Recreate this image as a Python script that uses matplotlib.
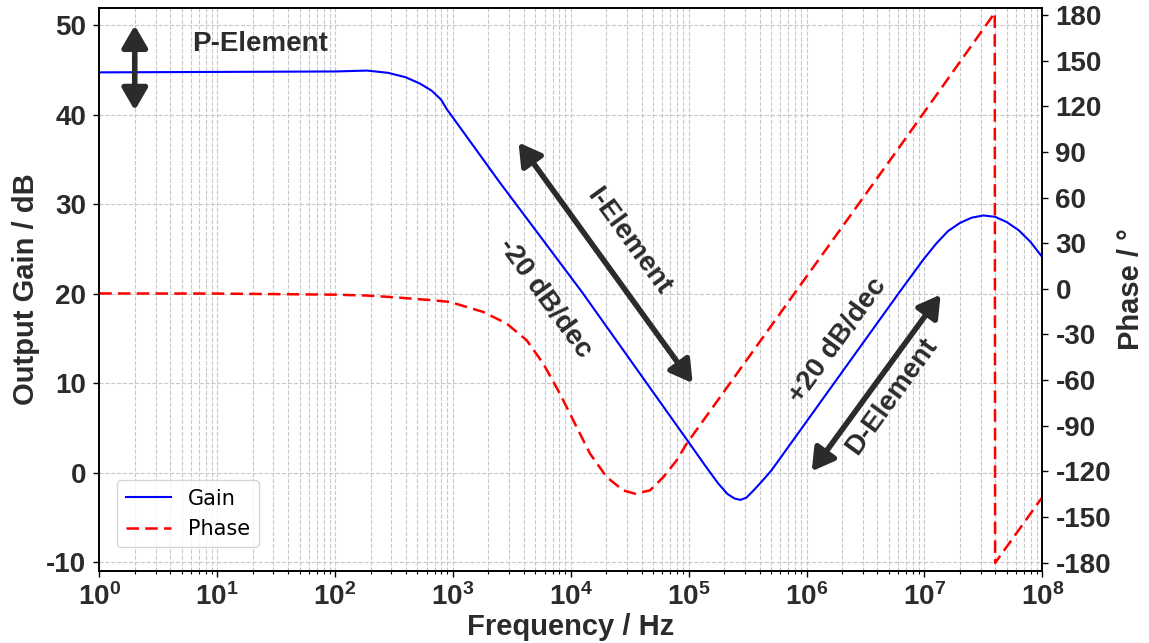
import numpy as np
import matplotlib
matplotlib.use('Agg')
import matplotlib.pyplot as plt
from matplotlib.ticker import FuncFormatter, LogLocator, MultipleLocator, NullFormatter

# values (log10 of frequency in Hz)
gain_logf = [0.0, 1.0, 2.0, 2.27, 2.45, 2.6, 2.72, 2.82, 2.9, 2.95, 3.0, 3.4, 4.1, 5.0,
             5.15, 5.25, 5.33, 5.39, 5.44, 5.49, 5.55, 5.62, 5.7, 6.79, 6.99, 7.1, 7.2,
             7.3, 7.4, 7.5, 7.6, 7.7, 7.8, 7.9, 8.0]
gain_db = [44.75, 44.8, 44.85, 44.95, 44.7, 44.2, 43.5, 42.7, 41.7, 40.6, 39.7, 32.4, 20.1, 3.4,
           0.6, -1.2, -2.4, -2.9, -3.05, -2.8, -2.0, -1.0, 0.2, 20.2, 23.8, 25.6, 27.0,
           27.9, 28.5, 28.75, 28.6, 28.0, 27.1, 25.8, 24.1]

phase_logf = [0.0, 1.0, 2.0, 2.27, 2.5, 2.83, 2.975, 3.258, 3.456, 3.626, 3.767, 3.908, 4.021,
              4.163, 4.305, 4.445, 4.545, 4.672, 4.785, 4.898, 4.983, 6.79, 7.597, 7.6, 8.0]
phase_deg = [-3.0, -3.1, -3.8, -4.4, -5.5, -7.5, -8.6, -15.2, -22.8, -33.8, -49.2, -68.9, -86.4,
             -108.3, -123.8, -132.5, -134.7, -132.5, -123.8, -112.8, -101.8, 93.4, 181.5, -180.2, -137.0]

gain_f = 10 ** np.array(gain_logf)
phase_f = 10 ** np.array(phase_logf)

dark = '#2b2b2b'
plt.rcParams['font.family'] = ['Liberation Sans', 'DejaVu Sans']
plt.rcParams['mathtext.fontset'] = 'custom'
plt.rcParams['mathtext.bf'] = 'Liberation Sans:bold'
plt.rcParams['mathtext.rm'] = 'Liberation Sans:bold'
plt.rcParams['axes.unicode_minus'] = False

fig = plt.figure(figsize=(11.49, 6.43), dpi=100)
ax = fig.add_axes([0.0864, 0.112, 0.8207, 0.8763])
ax2 = ax.twinx()

l1, = ax.plot(gain_f, gain_db, color='blue', lw=1.5, label='Gain')
l2, = ax2.plot(phase_f, phase_deg, color='red', lw=1.8, linestyle=(0, (5, 2.5)), label='Phase')

ax.set_xscale('log')
ax.set_xlim(1, 1e8)
ax.set_ylim(-11, 52)
ax2.set_ylim(-185.5, 185)
ax.yaxis.set_major_locator(MultipleLocator(10))
ax2.yaxis.set_major_locator(MultipleLocator(30))
ax.xaxis.set_major_locator(LogLocator(base=10, numticks=20))
ax.xaxis.set_minor_locator(LogLocator(base=10, subs=np.arange(2, 10), numticks=20))
ax.xaxis.set_major_formatter(FuncFormatter(lambda v, p: r'$\mathbf{10^{%d}}$' % round(np.log10(v))))
ax.xaxis.set_minor_formatter(NullFormatter())

ax.grid(which='major', axis='both', color='#c8c8c8', linestyle='--', lw=0.8)
ax.grid(which='minor', axis='x', color='#c8c8c8', linestyle='--', lw=0.8)

for a in (ax, ax2):
    for s in a.spines.values():
        s.set_linewidth(1.2)
        s.set_color('black')
    a.tick_params(axis='both', which='major', labelsize=20, labelcolor=dark, length=4.5, width=1.0, pad=5)
    a.tick_params(axis='both', which='minor', length=2.5, width=0.8)
    for lab in a.get_yticklabels() + a.get_xticklabels():
        lab.set_fontweight('bold')
ax.tick_params(axis='x', which='major', length=4, pad=5)

ax.set_xlabel('Frequency / Hz', fontsize=21, fontweight='bold', color=dark, labelpad=1)
ax.set_ylabel('Output Gain / dB', fontsize=21, fontweight='bold', color=dark, labelpad=4)
ax2.set_ylabel('Phase / °', fontsize=21, fontweight='bold', color=dark, labelpad=4)

arrow = dict(arrowstyle='<|-|>,head_length=0.55,head_width=0.32', mutation_scale=24,
             lw=4, color=dark, shrinkA=0, shrinkB=0)
ax.annotate('', xy=(2, 50), xytext=(2, 40.5), arrowprops=arrow)
ax.annotate('', xy=(10 ** 3.557, 36.9), xytext=(10 ** 5.034, 10.0), arrowprops=arrow)
ax.annotate('', xy=(10 ** 7.138, 19.9), xytext=(10 ** 6.044, 0.15), arrowprops=arrow)

txt = dict(fontsize=20, fontweight='bold', color=dark, ha='center', va='center')
ax.text(10 ** 1.363, 47.9, 'P-Element', **txt)
ax.text(10 ** 4.486, 25.8, 'I-Element', rotation=-54, **txt)
ax.text(10 ** 3.781, 19.5, '-20 dB/dec', rotation=-54, **txt)
ax.text(10 ** 6.263, 14.75, '+20 dB/dec', rotation=54, **txt)
ax.text(10 ** 6.722, 8.5, 'D-Element', rotation=54, **txt)

leg = ax2.legend([l1, l2], ['Gain', 'Phase'], loc='lower left', bbox_to_anchor=(0.0191, 0.042),
                 borderaxespad=0, prop={'family': 'DejaVu Sans', 'size': 15}, handlelength=2.2)

fig.savefig('out.png', dpi=100)
